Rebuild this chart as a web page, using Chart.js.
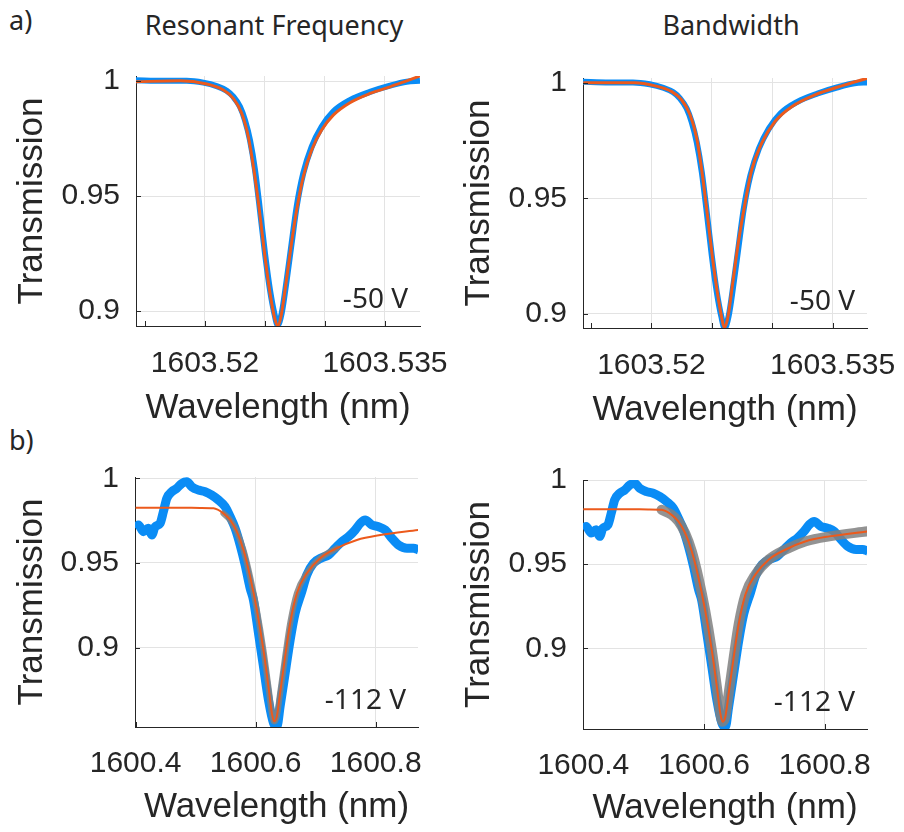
<!DOCTYPE html>
<html>
<head>
<meta charset="utf-8">
<script src="https://cdn.jsdelivr.net/npm/chart.js@4.4.1/dist/chart.umd.min.js"></script>
<style>
  body { margin: 0; background: #fff; width: 904px; height: 832px; position: relative; overflow: hidden; color: #262626; }
  .lbl { position: absolute; font-family: "Noto Sans", sans-serif; font-size: 27px; line-height: 1; white-space: nowrap; }
  canvas { position: absolute; }
</style>
</head>
<body>
<div class="lbl" style="left:9px;top:6px">a)</div>
<div class="lbl" style="left:9px;top:426px">b)</div>
<div class="lbl" style="left:274px;top:11px;transform:translateX(-50%)">Resonant Frequency</div>
<div class="lbl" style="left:731px;top:11px;transform:translateX(-50%)">Bandwidth</div>

<canvas id="cA1" width="460" height="440" style="left:0;top:0"></canvas>
<canvas id="cA2" width="457" height="440" style="left:447px;top:0"></canvas>
<canvas id="cB1" width="460" height="402" style="left:0;top:430px"></canvas>
<canvas id="cB2" width="457" height="402" style="left:447px;top:430px"></canvas>

<script>
// a) measured sweep at -50 V (same trace in both panels)
const waveA = [1603.51417, 1603.51653, 1603.51847, 1603.51986, 1603.52097, 1603.52181, 1603.52236, 1603.52292,
  1603.52333, 1603.52375, 1603.52417, 1603.52458, 1603.525, 1603.52542, 1603.52578, 1603.52606, 1603.52639,
  1603.52681, 1603.52722, 1603.52764, 1603.52819, 1603.52889, 1603.52972, 1603.53069, 1603.53208, 1603.53375,
  1603.53542, 1603.53681, 1603.53792];
const transA = [1.0004, 1.0001, 1.0001, 0.9993, 0.9978, 0.9958, 0.9932, 0.9888,
  0.9830, 0.9743, 0.9613, 0.9439, 0.9251, 0.9091, 0.8990, 0.8939, 0.8990,
  0.9135, 0.9294, 0.9454, 0.9599, 0.9714, 0.9801, 0.9867, 0.9917, 0.9953,
  0.9980, 0.9997, 1.0001];

// a) fits
const fitFreqX = [1603.51417, 1603.51792, 1603.52014, 1603.52153, 1603.52236, 1603.52306, 1603.52361, 1603.52408,
  1603.52453, 1603.525, 1603.52542, 1603.52578, 1603.52606, 1603.52633, 1603.52675, 1603.52717, 1603.52764,
  1603.52819, 1603.52889, 1603.52972, 1603.53069, 1603.53208, 1603.53375, 1603.53542, 1603.53681, 1603.53792];
const fitFreqY = [0.9997, 1.0001, 0.9987, 0.9961, 0.9925, 0.9860, 0.9758, 0.9613,
  0.9439, 0.9236, 0.9077, 0.8975, 0.8935, 0.8975, 0.9120, 0.9280, 0.9439,
  0.9584, 0.9700, 0.9787, 0.9852, 0.9906, 0.9946, 0.9975, 1.0001, 1.0022];
const fitBwX = [1603.51436, 1603.51864, 1603.5203, 1603.52168, 1603.52251, 1603.5232, 1603.52375, 1603.52416,
  1603.52458, 1603.52504, 1603.52546, 1603.52582, 1603.52603, 1603.52632, 1603.52673, 1603.52719, 1603.52775,
  1603.5283, 1603.52913, 1603.53023, 1603.53161, 1603.53354, 1603.53575, 1603.53787];
const fitBwY = [1.0, 1.0, 0.9986, 0.9961, 0.9925, 0.9861, 0.9760, 0.9623,
  0.9450, 0.9249, 0.9091, 0.8983, 0.8940, 0.8983, 0.9134, 0.9307, 0.9479,
  0.9623, 0.9738, 0.9832, 0.9896, 0.9947, 0.9986, 1.0019];

// b) measured sweep at -112 V (same trace in both panels)
const waveB = [1600.400, 1600.4047, 1600.413, 1600.4213, 1600.427, 1600.4325, 1600.4408, 1600.4463, 1600.452,
  1600.4603, 1600.4687, 1600.477, 1600.4853, 1600.4937, 1600.5047, 1600.5158, 1600.527, 1600.538, 1600.5492,
  1600.5575, 1600.5658, 1600.5742, 1600.5825, 1600.5908, 1600.5963, 1600.6047, 1600.613, 1600.6213, 1600.6297,
  1600.6353, 1600.6408, 1600.6492, 1600.6575, 1600.6658, 1600.677, 1600.6853, 1600.6963, 1600.7103, 1600.7213,
  1600.7325, 1600.7437, 1600.7547, 1600.7658, 1600.7742, 1600.7825, 1600.7937, 1600.8047, 1600.8158, 1600.827,
  1600.838, 1600.852, 1600.863, 1600.8713];
const transB = [0.9705, 0.9724, 0.9685, 0.9705, 0.9665, 0.9714, 0.9734, 0.9803, 0.9882,
  0.9921, 0.9941, 0.9970, 0.9980, 0.9950, 0.9931, 0.9921, 0.9901, 0.9872, 0.9832,
  0.9773, 0.9705, 0.9606, 0.9488, 0.9351, 0.9282, 0.9085, 0.8888, 0.8691, 0.8554,
  0.8532, 0.8652, 0.8849, 0.9045, 0.9203, 0.9331, 0.9429, 0.9498, 0.9531, 0.9547,
  0.9587, 0.9626, 0.9655, 0.9695, 0.9734, 0.9754, 0.9724, 0.9714, 0.9695, 0.9646,
  0.9606, 0.9587, 0.9587, 0.9577];

// b) Lorentzian fit (both panels)
const fitBX = [1600.400, 1600.4742, 1600.5075, 1600.5297, 1600.5463, 1600.5575, 1600.5687, 1600.5797, 1600.5908,
  1600.602, 1600.613, 1600.6213, 1600.627, 1600.6308, 1600.6353, 1600.6408, 1600.6492, 1600.6575, 1600.6687,
  1600.6853, 1600.7075, 1600.7353, 1600.7687, 1600.8075, 1600.8713];
const fitBY = [0.9826, 0.9826, 0.9825, 0.9823, 0.9793, 0.9754, 0.9685, 0.9577, 0.9419,
  0.9223, 0.8986, 0.8770, 0.8613, 0.8563, 0.8593, 0.8731, 0.8947, 0.9144, 0.9321,
  0.9439, 0.9528, 0.9587, 0.9636, 0.9665, 0.9695];

// where the gray confidence band is visible around the fit
const bandFreqRange = [1600.545, 1600.74];
const bandBwRange = [1600.529, 1600.875];

const ticksXA = [1603.515, 1603.52, 1603.525, 1603.53, 1603.535];
const labelsXA = ['', '1603.52', '', '', '1603.535'];
const ticksXB = [1600.4, 1600.6, 1600.8];
const labelsXB = ['1600.4', '1600.6', '1600.8'];
const ticksY = [0.9, 0.95, 1];
const labelsY = ['0.9', '0.95', '1'];

const BLUE = '#0a8cf5';
const ORANGE = '#ec5a1c';
const GRAY = 'rgba(128,128,128,0.85)';
const INK = '#262626';
const SANS = '"Liberation Sans", Arial, sans-serif';

const xy = (xs, ys) => xs.map((x, i) => ({ x: x, y: ys[i] }));
const inRange = (xs, ys, r) => xy(xs, ys).filter(p => p.x >= r[0] && p.x <= r[1]);

// MATLAB style inward ticks + the voltage tag in the corner
const decor = {
  id: 'decor',
  afterDatasetsDraw(chart, args, opts) {
    const ctx = chart.ctx, a = chart.chartArea, x = chart.scales.x, y = chart.scales.y;
    ctx.save();
    ctx.strokeStyle = INK;
    ctx.lineWidth = 1;
    ctx.beginPath();
    x.ticks.forEach(t => {
      const px = Math.round(x.getPixelForValue(t.value)) + 0.5;
      ctx.moveTo(px, a.bottom); ctx.lineTo(px, a.bottom - 5);
    });
    y.ticks.forEach(t => {
      const py = Math.round(y.getPixelForValue(t.value)) + 0.5;
      ctx.moveTo(a.left, py); ctx.lineTo(a.left + 5, py);
    });
    ctx.stroke();
    ctx.fillStyle = INK;
    ctx.font = '28px "Noto Sans", sans-serif';
    ctx.textAlign = 'right';
    ctx.textBaseline = 'alphabetic';
    ctx.fillText(opts.text, a.right - 12, a.bottom - 18);
    ctx.restore();
  }
};

function makePanel(id, p) {
  const datasets = [
    { data: p.fit, borderColor: ORANGE, borderWidth: p.fitWidth, pointRadius: 0, cubicInterpolationMode: 'monotone' }
  ];
  if (p.band) {
    datasets.push({ data: p.band, borderColor: GRAY, borderWidth: p.bandWidth, borderCapStyle: 'round',
      pointRadius: 0, cubicInterpolationMode: 'monotone' });
  }
  datasets.push({ data: p.meas, borderColor: BLUE, borderWidth: p.measWidth, pointRadius: 0, cubicInterpolationMode: 'monotone' });

  return new Chart(document.getElementById(id), {
    type: 'line',
    data: { datasets: datasets },
    plugins: [decor],
    options: {
      responsive: false,
      animation: false,
      layout: { autoPadding: false, padding: { top: p.padTop, right: p.padRight, bottom: 0, left: 0 } },
      plugins: { legend: { display: false }, tooltip: { enabled: false }, decor: { text: p.volt } },
      scales: {
        x: {
          type: 'linear', min: p.xMin, max: p.xMax,
          afterFit: s => { s.height = p.xHeight; s.paddingLeft = 0; s.paddingRight = 0; },
          afterBuildTicks: s => { s.ticks = p.xTicks.map(v => ({ value: v })); },
          ticks: {
            autoSkip: false, maxRotation: 0, padding: p.xTickPad, color: INK,
            font: { family: SANS, size: 30 },
            callback: (v, i) => p.xLabels[i]
          },
          grid: {
            drawTicks: false, color: c => (c.tick && c.tick.value === p.xNoGrid) ? 'rgba(0,0,0,0)' : '#e3e3e3'
          },
          border: { color: INK, width: 1 },
          title: {
            display: true, text: 'Wavelength (nm)', color: INK,
            font: { family: SANS, size: 35 },
            padding: { top: 0, bottom: p.xTitlePad }
          }
        },
        y: {
          type: 'linear', min: p.yMin, max: p.yMax,
          afterFit: s => { s.width = p.yWidth; s.paddingTop = 0; s.paddingBottom = 0; },
          afterBuildTicks: s => { s.ticks = ticksY.map(v => ({ value: v })); },
          ticks: {
            padding: 16, color: INK,
            font: { family: SANS, size: 30 },
            callback: (v, i) => labelsY[i]
          },
          grid: { drawTicks: false, color: '#e3e3e3' },
          border: { color: INK, width: 1 },
          title: {
            display: true, text: 'Transmission', color: INK,
            font: { family: SANS, size: 35 },
            padding: { top: 11, bottom: 0 }
          }
        }
      }
    }
  });
}

makePanel('cA1', {
  meas: xy(waveA, transA), fit: xy(fitFreqX, fitFreqY), measWidth: 6, fitWidth: 3,
  xMin: 1603.51425, xMax: 1603.53792, yMin: 0.8935, yMax: 1.0022,
  xTicks: ticksXA, xLabels: labelsXA, xNoGrid: 1603.515,
  padTop: 76, padRight: 40, yWidth: 136, xHeight: 114, xTickPad: 20, xTitlePad: 11, volt: '-50 V'
});
makePanel('cA2', {
  meas: xy(waveA, transA), fit: xy(fitBwX, fitBwY), measWidth: 6, fitWidth: 3,
  xMin: 1603.51434, xMax: 1603.53784, yMin: 0.8939, yMax: 1.002,
  xTicks: ticksXA, xLabels: labelsXA, xNoGrid: 1603.515,
  padTop: 78, padRight: 37, yWidth: 136, xHeight: 112, xTickPad: 20, xTitlePad: 9, volt: '-50 V'
});
makePanel('cB1', {
  meas: xy(waveB, transB), fit: xy(fitBX, fitBY), band: inRange(fitBX, fitBY, bandFreqRange),
  measWidth: 9, fitWidth: 2, bandWidth: 6,
  xMin: 1600.399, xMax: 1600.8705, yMin: 0.853, yMax: 1.0008,
  xTicks: ticksXB, xLabels: labelsXB, xNoGrid: null,
  padTop: 47, padRight: 42, yWidth: 135, xHeight: 105, xTickPad: 19, xTitlePad: 4, volt: '-112 V'
});
makePanel('cB2', {
  meas: xy(waveB, transB), fit: xy(fitBX, fitBY), band: inRange(fitBX, fitBY, bandBwRange),
  measWidth: 9, fitWidth: 2, bandWidth: 10,
  xMin: 1600.3995, xMax: 1600.87, yMin: 0.852, yMax: 1.0,
  xTicks: ticksXB, xLabels: labelsXB, xNoGrid: null,
  padTop: 50, padRight: 37, yWidth: 136, xHeight: 103, xTickPad: 19, xTitlePad: 3, volt: '-112 V'
});
</script>
</body>
</html>
